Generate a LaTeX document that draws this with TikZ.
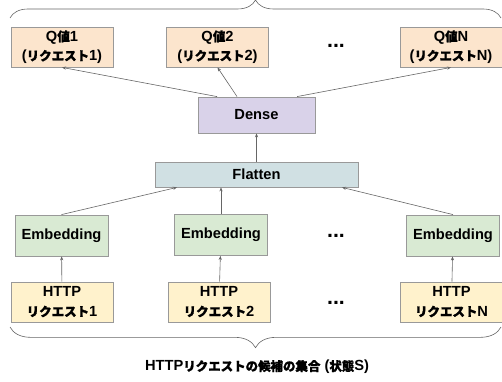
\documentclass[tikz,border=0pt]{standalone}
\usepackage{fontspec}
\setmainfont{Liberation Sans}
\newfontfamily\jp{Noto Sans CJK JP}[Scale=0.85, FakeBold=1.2]
\usetikzlibrary{arrows.meta,positioning,calc,decorations.pathreplacing}
\definecolor{qorange}{HTML}{FCE5CD}
\definecolor{densepurple}{HTML}{D9D2E9}
\definecolor{flattencyan}{HTML}{D0E0E3}
\definecolor{embedgreen}{HTML}{D9EAD3}
\definecolor{httpyellow}{HTML}{FFF2CC}
\definecolor{boxline}{HTML}{999999}
\definecolor{arrline}{HTML}{666666}

\begin{document}
\begin{tikzpicture}[
        x=0.75pt, y=-0.75pt,
        every node/.style={font=\bfseries\fontsize{11}{14.5}\selectfont, align=center},
        box/.style={draw=boxline, line width=0.6pt, inner sep=0pt},
        qbox/.style={box, fill=qorange, minimum width=76.5pt, minimum height=30pt},
        httpbox/.style={box, fill=httpyellow, minimum width=76.5pt, minimum height=30pt},
        embbox/.style={box, fill=embedgreen, minimum width=69.75pt, minimum height=30.75pt},
        dots/.style={font=\bfseries\fontsize{16}{16}\selectfont},
        arrow/.style={-{Stealth[length=3pt,width=2.4pt]}, arrline, line width=0.45pt},
        brace/.style={decorate, decoration={brace, amplitude=#1}, arrline, line width=0.45pt}
    ]
        \useasboundingbox (0,0) rectangle (502,381);

        % 出力 (Q値)
        \node[qbox] (q1) at (62,47) {Q{\jp 値}1\\({\jp リクエスト}1)};
        \node[qbox] (q2) at (217.5,47) {Q{\jp 値}2\\({\jp リクエスト}2)};
        \node[qbox] (qn) at (451,47) {Q{\jp 値}N\\({\jp リクエスト}N)};
        \node[dots] (qdots) at (336,46) {...};

        \node[box, fill=densepurple, minimum width=87.75pt, minimum height=27pt] (dense) at (256.5,115) {Dense};
        \node[box, fill=flattencyan, minimum width=152.25pt, minimum height=18.75pt] (flatten) at (256.5,174.5) {Flatten};

        \node[embbox] (e1) at (61.5,235.5) {Embedding};
        \node[embbox] (e2) at (221,235) {Embedding};
        \node[embbox] (en) at (453,235.5) {Embedding};
        \node[dots] (edots) at (336,236) {...};

        % 入力 (HTTPリクエスト)
        \node[httpbox] (h1) at (62,302) {HTTP\\{\jp リクエスト}1};
        \node[httpbox] (h2) at (219,302) {HTTP\\{\jp リクエスト}2};
        \node[httpbox] (hn) at (451.5,302) {HTTP\\{\jp リクエスト}N};
        \node[dots] (hdots) at (336,303) {...};

        \node (state) at (257,367) {HTTP{\jp リクエストの候補の集合} ({\jp 状態}S)};

        \draw[arrow] (h1) -- (e1);
        \draw[arrow] (h2) -- (e2);
        \draw[arrow] (hn) -- (en);
        \draw[arrow] (e1.north) -- ([xshift=-59.6pt]flatten.south);
        \draw[arrow] (e2.north) -- (e2.north |- flatten.south);
        \draw[arrow] (en.north) -- ([xshift=64.1pt]flatten.south);
        \draw[arrow] (flatten) -- (dense);
        \draw[arrow] ([xshift=-29.6pt]dense.north) -- (q1.south);
        \draw[arrow] ([xshift=-14.6pt]dense.north) -- (q2.south);
        \draw[arrow] ([xshift=30.4pt]dense.north) -- (qn.south);

        % 括弧
        \coordinate (tl) at (10,18);
        \coordinate (tr) at (501,18);
        \coordinate (bl) at (10,327);
        \coordinate (br) at (501,327);
        \draw[brace=13.5pt] (tl) -- (tr);
        \draw[brace=15.5pt] (br) -- (bl);
    \end{tikzpicture}
\end{document}
